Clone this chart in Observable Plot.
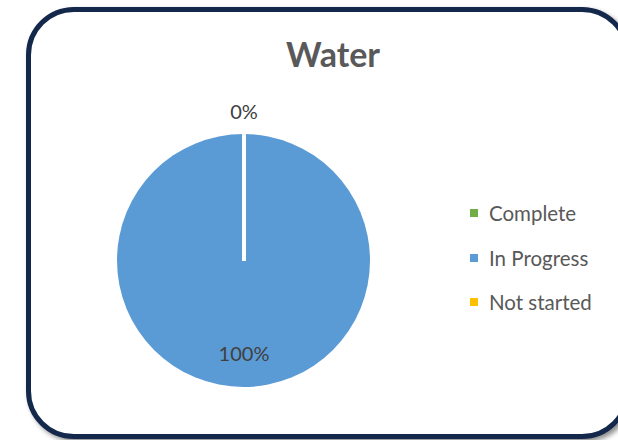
<!DOCTYPE html>
<html>
<head>
<meta charset="utf-8">
<script src="https://cdn.jsdelivr.net/npm/d3@7"></script>
<script src="https://cdn.jsdelivr.net/npm/@observablehq/plot@0.6"></script>
<style>
  html, body { margin: 0; padding: 0; background: #fff; overflow: hidden; }
  #wrap { position: relative; width: 618px; height: 440px; overflow: hidden; font-family: Lato, "Open Sans", sans-serif; }
  #frame { position: absolute; left: 26px; top: 7px; width: 604px; height: 432px; box-sizing: border-box;
           border: 5px solid #13284a; border-radius: 48px; box-shadow: 3px 3px 5px rgba(0,0,0,0.45); background: #fff; }
  #title { position: absolute; left: 0; width: 666px; top: 33px; text-align: center; font-weight: bold; font-size: 34px; color: #595959; }
  #chart { position: absolute; left: 0; top: 0; }
  #legend { position: absolute; left: 470px; top: 191px; }
  .item { display: flex; align-items: center; height: 44.5px; font-size: 20.5px; color: #595959; }
  .sw { width: 8px; height: 8px; margin-right: 11px; }
</style>
</head>
<body>
<div id="wrap">
  <div id="frame"></div>
  <div id="chart"></div>
  <div id="title">Water</div>
  <div id="legend"></div>
</div>
<script>
const categories = ["Complete", "In Progress", "Not started"];
const values = [0, 100, 0];
const colors = ["#70AD47", "#5B9BD5", "#FFC000"];
const labels = ["0%", "100%", "0%"];
const chartTitle = "Water";

const rows = categories.map((c, i) => ({category: c, value: values[i], label: labels[i]}));
const arcs = d3.pie().sort(null).value(d => d.value)(rows);

// label radius: outside for zero slices, inside otherwise
const labelR = d => d.value > 0 ? 0.74 : 1.17;
const mid = d => (d.startAngle + d.endAngle) / 2;
const labelArcs = arcs.filter((d, i, arr) =>
  arr.findIndex(e => Math.abs((mid(e) % (2*Math.PI)) - (mid(d) % (2*Math.PI))) < 1e-9 && labelR(e.data) === labelR(d.data)) === i);

const colorOf = d3.scaleOrdinal(categories, colors);

const slices = (index, scales) => {
  const cx = scales.x(0), cy = scales.y(0);
  const r = Math.abs(scales.x(1) - scales.x(0));
  const g = d3.create("svg:g");
  const arcGen = d3.arc().innerRadius(0).outerRadius(r);
  g.selectAll("path").data(arcs.filter(d => d.value > 0)).join("path")
    .attr("transform", `translate(${cx},${cy})`)
    .attr("d", arcGen)
    .attr("fill", d => colorOf(d.data.category));
  return g.node();
};

const plot = Plot.plot({
  width: 618,
  height: 440,
  marginLeft: 117,
  marginRight: 248,
  marginTop: 134,
  marginBottom: 53,
  x: {domain: [-1, 1], axis: null},
  y: {domain: [-1, 1], axis: null},
  style: {background: "transparent", fontFamily: "Lato, 'Open Sans', sans-serif"},
  marks: [
    slices,
    Plot.link(arcs, {
      x1: () => 0, y1: () => 0,
      x2: d => Math.sin(d.startAngle), y2: d => Math.cos(d.startAngle),
      stroke: "white", strokeWidth: 4
    }),
    Plot.text(labelArcs, {
      x: d => labelR(d.data) * Math.sin(mid(d)),
      y: d => labelR(d.data) * Math.cos(mid(d)),
      text: d => d.data.label,
      fill: "#404040",
      fontSize: 20,
      stroke: null
    })
  ]
});
document.getElementById("chart").appendChild(plot);
document.getElementById("title").textContent = chartTitle;

const legend = d3.select("#legend");
categories.forEach((c, i) => {
  const it = legend.append("div").attr("class", "item");
  it.append("div").attr("class", "sw").style("background", colors[i]);
  it.append("span").text(c);
});
</script>
</body>
</html>
